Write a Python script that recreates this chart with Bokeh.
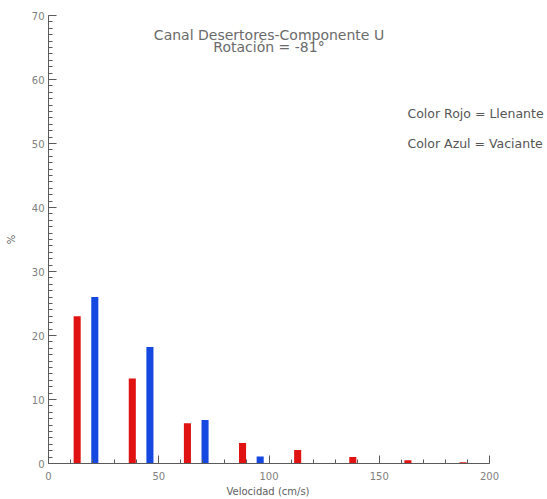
from bokeh.plotting import figure
from bokeh.models import Label, SingleIntervalTicker, Range1d, Title
from bokeh.embed import file_html
from bokeh.resources import INLINE

# Velocity histogram (percent of samples) for flood (red) and ebb (blue) currents
red_velocity = [13, 38, 63, 88, 113, 138, 163, 188]
red_percent = [23.0, 13.3, 6.3, 3.2, 2.1, 1.0, 0.5, 0.2]
blue_velocity = [21, 46, 71, 96]
blue_percent = [26.0, 18.2, 6.8, 1.1]

title_lines = ["Canal Desertores-Componente U", "Rotación = -81°"]
legend_lines = ["Color Rojo = Llenante", "Color Azul = Vaciante"]
x_title = "Velocidad (cm/s)"
y_title = "%"

FONT = "DejaVu Sans"
TEXT = "#6a6a6a"
AXIS = "#5a5a5a"

# frame runs to the right edge so the notes there are not cut; the axis stops at 200
X_MAX = 200
FRAME_W = 547 - 48
AXIS_W = 441.0
x_end = X_MAX * FRAME_W / AXIS_W

p = figure(width=547, height=499, output_backend="svg", toolbar_location=None,
           x_range=Range1d(0, x_end), y_range=Range1d(0, 70),
           min_border_left=48, min_border_right=0,
           min_border_top=15, min_border_bottom=36)
p.outline_line_color = None
p.xgrid.visible = False
p.ygrid.visible = False
p.background_fill_color = "white"
p.border_fill_color = "white"

bar_w = 3.2
p.vbar(x=red_velocity, top=red_percent, bottom=0, width=bar_w,
       fill_color="#e01212", line_color=None)
p.vbar(x=blue_velocity, top=blue_percent, bottom=0, width=bar_w,
       fill_color="#1448e0", line_color=None)

# IDL-style axes: ticks pointing into the plot
for ax in (p.xaxis[0], p.yaxis[0]):
    ax.axis_line_color = AXIS
    ax.major_tick_line_color = AXIS
    ax.minor_tick_line_color = AXIS
    ax.major_tick_in = 8
    ax.major_tick_out = 0
    ax.minor_tick_in = 4
    ax.minor_tick_out = 0
    ax.major_label_text_font = FONT
    ax.major_label_text_font_size = "10px"
    ax.major_label_text_color = "#808080"
    ax.axis_label_text_font = FONT
    ax.axis_label_text_font_size = "10px"
    ax.axis_label_text_font_style = "normal"
    ax.axis_label_text_color = "#606060"

p.xaxis.bounds = (0, X_MAX)
p.xaxis.ticker = SingleIntervalTicker(interval=50, num_minor_ticks=5)
p.yaxis.ticker = SingleIntervalTicker(interval=10, num_minor_ticks=10)
p.yaxis.axis_label = y_title
p.xaxis.major_label_standoff = 8
p.yaxis.major_label_standoff = 4
p.yaxis.axis_label_standoff = 12

# x title placed under the middle of the 0-200 span
p.add_layout(Title(text=x_title, align="left", offset=178, standoff=3,
                   text_font=FONT, text_font_size="10px", text_font_style="normal",
                   text_color="#606060"), "below")

for i, line in enumerate(title_lines):
    p.add_layout(Label(x=100, y=67.0 - 1.85 * i, text=line,
                       text_align="center", text_baseline="middle",
                       text_font=FONT, text_font_size="14px", text_color=TEXT))

for i, line in enumerate(legend_lines):
    p.add_layout(Label(x=162.8, y=54.7 - 4.7 * i, text=line,
                       text_align="left", text_baseline="middle",
                       text_font=FONT, text_font_size="12.5px", text_color="#555555"))

open("out.html", "w").write(file_html(p, INLINE))
